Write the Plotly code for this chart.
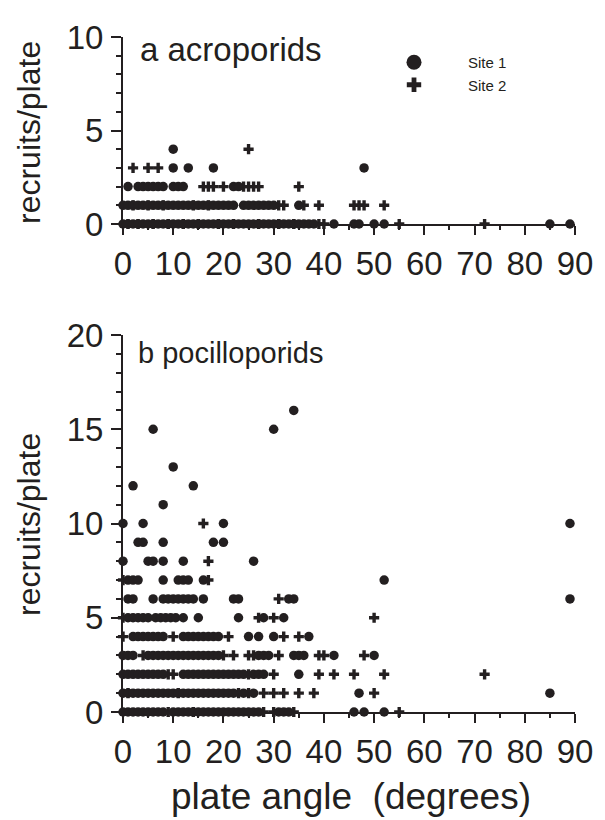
import plotly.graph_objects as go

# ---------------- data: plate angle (degrees) per recruits/plate row ----------------
# a acroporids
acro_s1_0 = [0,1,2,3,4,5,6,7,8,9,10,11,12,13,14,15,16,17,18,19,20,21,22,23,24,25,26,27,28,29,30,31,32,33,34,35,36,37,38,42,46,47,50,52,85,89]
acro_s2_0 = [1,3,6,9,12,15,19,22,27,31,34,39,40,55,72]
acro_s1_1 = [0,1,2,3,4,5,6,7,8,9,10,11,12,13,14,15,16,17,18,19,20,21,22,24,25,26,27,28,29,30,35]
acro_s2_1 = [2,5,8,14,17,31,32,36,39,46,47,48,52]
acro_s1_2 = [1,3,4,5,6,7,8,10,11,12,22,23]
acro_s2_2 = [16,17,18,20,24,25,26,27,35]
acro_s1_3 = [10,13,18,48]
acro_s2_3 = [2,5,7]
acro_s1_4 = [10]
acro_s2_4 = [25]

# b pocilloporids
poci_s1_0 = [0,1,2,3,4,5,6,7,8,10,11,12,13,14,15,16,17,18,19,20,21,22,23,24,25,26,27,31,32,33,46,48,52]
poci_s2_0 = [9,14,28,30,34,55]
poci_s1_1 = [0,1,2,3,4,5,6,7,8,9,10,11,12,13,14,15,16,17,18,19,20,21,22,24,26,47,85]
poci_s2_1 = [1,11,23,25,28,30,32,35,38,50]
poci_s1_2 = [0,1,2,3,4,5,6,7,8,12,13,14,15,16,17,18,19,20,21,22,23,24,26,27,28,35]
poci_s2_2 = [9,10,25,30,39,42,46,52,72]
poci_s1_3 = [0,1,2,5,6,7,8,9,10,11,12,13,14,15,16,17,18,19,27,28,29,34,35,36,42,50]
poci_s2_3 = [4,20,22,25,26,31,39,40,48]
poci_s1_4 = [2,3,4,5,6,7,8,12,13,14,15,16,17,18,19,25,27,30,37]
poci_s2_4 = [0,10,21,32,35]
poci_s1_5 = [1,2,3,4,5,6.5,7.5,8.5,9.5,10.5,12,15,23,28,32]
poci_s2_5 = [0,27,30,50]
poci_s1_6 = [1,2,6,8,9,10,11,12,13,14,16,22,23,33,34,89]
poci_s2_6 = [31]
poci_s1_7 = [1,2,3,8,11,12,13,16,52]
poci_s2_7 = [0,17]
poci_s1_8 = [0,5,6,8,12,26]
poci_s2_8 = [17]
poci_s1_9 = [3,4,8,18,20]
poci_s1_10 = [0,4,20,89]
poci_s2_10 = [16]
poci_s1_11 = [8]
poci_s1_12 = [2,14]
poci_s1_13 = [10]
poci_s1_15 = [6,30]
poci_s1_16 = [34]

acro_site1 = {0: acro_s1_0, 1: acro_s1_1, 2: acro_s1_2, 3: acro_s1_3, 4: acro_s1_4}
acro_site2 = {0: acro_s2_0, 1: acro_s2_1, 2: acro_s2_2, 3: acro_s2_3, 4: acro_s2_4}
poci_site1 = {0: poci_s1_0, 1: poci_s1_1, 2: poci_s1_2, 3: poci_s1_3, 4: poci_s1_4,
              5: poci_s1_5, 6: poci_s1_6, 7: poci_s1_7, 8: poci_s1_8, 9: poci_s1_9,
              10: poci_s1_10, 11: poci_s1_11, 12: poci_s1_12, 13: poci_s1_13,
              15: poci_s1_15, 16: poci_s1_16}
poci_site2 = {0: poci_s2_0, 1: poci_s2_1, 2: poci_s2_2, 3: poci_s2_3, 4: poci_s2_4,
              5: poci_s2_5, 6: poci_s2_6, 7: poci_s2_7, 8: poci_s2_8, 10: poci_s2_10}


def flatten(rows):
    xs, ys = [], []
    for count, angles in rows.items():
        for a in angles:
            xs.append(a)
            ys.append(count)
    return xs, ys


INK = "#231f20"
FONT = "Liberation Sans, Arial, sans-serif"
# the page body has an 8px margin, so the figure is sized to the visible area
W, H = 597, 812

fig = go.Figure()

circle = dict(symbol="circle", size=9.5, color=INK, line=dict(width=0))
plus = dict(symbol="cross", size=8.5, color=INK, line=dict(width=0))

for rows, mk, ax in [(acro_site2, plus, ("x", "y")), (acro_site1, circle, ("x", "y")),
                     (poci_site2, plus, ("x2", "y2")), (poci_site1, circle, ("x2", "y2"))]:
    xs, ys = flatten(rows)
    fig.add_trace(go.Scatter(x=xs, y=ys, mode="markers", marker=mk, xaxis=ax[0], yaxis=ax[1],
                             showlegend=False, cliponaxis=False, hoverinfo="x+y"))

# legend-only entries
fig.add_trace(go.Scatter(x=[None], y=[None], mode="markers", name="Site 1",
                         marker=dict(symbol="circle", size=15, color=INK)))
fig.add_trace(go.Scatter(x=[None], y=[None], mode="markers", name="Site 2",
                         marker=dict(symbol="cross", size=12, color=INK)))

TICK = 33
xdom = [115 / W, 567 / W]
common_x = dict(range=[0, 90], domain=xdom, showline=True, linewidth=2, linecolor=INK,
                showgrid=False, zeroline=False, ticks="outside", ticklen=9, tickwidth=2,
                tickcolor=INK, tickmode="array", tickvals=[0,10,20,30,40,50,60,70,80,90],
                ticktext=["0","10","20","30","40","50","60","70","80","90"],
                tickfont=dict(family=FONT, size=TICK, color=INK), automargin=False,
                minor=dict(tickmode="array", tickvals=[5,15,25,35,45,55,65,75,85],
                           ticks="outside", ticklen=4, tickwidth=2, tickcolor=INK))
common_y = dict(showline=True, linewidth=2, linecolor=INK, showgrid=False, zeroline=False,
                ticks="outside", ticklen=10, tickwidth=2, tickcolor=INK, automargin=False,
                ticklabelstandoff=1,
                tickfont=dict(family=FONT, size=TICK, color=INK),
                minor=dict(dtick=1, ticks="outside", ticklen=5, tickwidth=2, tickcolor=INK))

fig.update_layout(
    width=W, height=H, plot_bgcolor="white", paper_bgcolor="white",
    margin=dict(l=0, r=0, t=0, b=0, autoexpand=False),
    xaxis=dict(**common_x, anchor="y"),
    yaxis=dict(**common_y, range=[0, 10], domain=[1 - 216 / H, 1 - 29 / H], anchor="x",
               tickvals=[0, 5, 10], ticktext=["0", "5", "10"]),
    xaxis2=dict(**common_x, anchor="y2"),
    yaxis2=dict(**common_y, range=[0, 20], domain=[1 - 704 / H, 1 - 327 / H], anchor="x2",
                tickvals=[0, 5, 10, 15, 20], ticktext=["0", "5", "10", "15", "20"]),
    legend=dict(x=352 / W, y=1 - 38 / H, xanchor="left", yanchor="top",
                font=dict(family=FONT, size=15, color=INK), itemwidth=98,
                bgcolor="rgba(0,0,0,0)", tracegroupgap=0),
    showlegend=True,
    font=dict(family=FONT, color=INK),
)

fig.add_annotation(text="a acroporids", xref="paper", yref="paper", x=130 / W, y=1 - 42 / H,
                   xanchor="left", yanchor="middle", showarrow=False,
                   font=dict(family=FONT, size=33, color=INK))
fig.add_annotation(text="b pocilloporids", xref="paper", yref="paper", x=128 / W, y=1 - 345 / H,
                   xanchor="left", yanchor="middle", showarrow=False,
                   font=dict(family=FONT, size=29, color=INK))
fig.add_annotation(text="recruits/plate", xref="paper", yref="paper", x=21 / W, y=1 - 125 / H,
                   xanchor="center", yanchor="middle", textangle=-90, showarrow=False,
                   font=dict(family=FONT, size=32, color=INK))
fig.add_annotation(text="recruits/plate", xref="paper", yref="paper", x=21 / W, y=1 - 517 / H,
                   xanchor="center", yanchor="middle", textangle=-90, showarrow=False,
                   font=dict(family=FONT, size=32, color=INK))
fig.add_annotation(text="plate angle  (degrees)", xref="paper", yref="paper", x=343 / W, y=1 - 788 / H,
                   xanchor="center", yanchor="middle", showarrow=False,
                   font=dict(family=FONT, size=37, color=INK))

fig.write_html("out.html")
